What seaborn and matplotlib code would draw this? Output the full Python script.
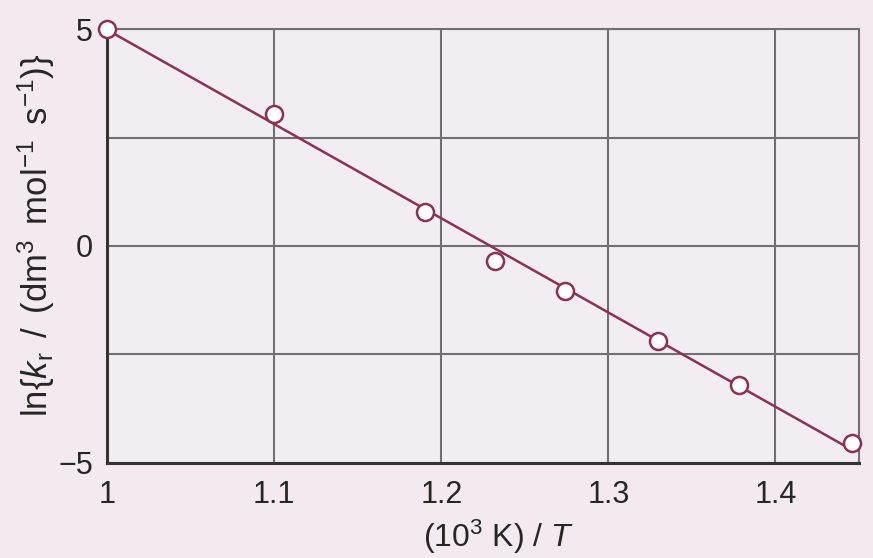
import matplotlib
matplotlib.use("Agg")
import matplotlib.pyplot as plt
import seaborn as sns
import pandas as pd

# Data
inv_T = [1.00, 1.10, 1.19, 1.232, 1.274, 1.33, 1.378, 1.446]
ln_k = [5.0, 3.05, 0.78, -0.34, -1.03, -2.2, -3.2, -4.55]
x_ticks = [1.0, 1.1, 1.2, 1.3, 1.4]
x_tick_labels = ["1", "1.1", "1.2", "1.3", "1.4"]
y_ticks = [-5, -2.5, 0, 2.5, 5]
y_tick_labels = ["\u22125", "", "0", "", "5"]

df = pd.DataFrame({"inv_T": inv_T, "ln_k": ln_k})

sns.set_theme(style="white")
plt.rcParams["font.family"] = ["Liberation Sans", "DejaVu Sans"]
plt.rcParams["mathtext.fontset"] = "custom"
plt.rcParams["mathtext.rm"] = "Liberation Sans"
plt.rcParams["mathtext.it"] = "Liberation Sans:italic"

bg = "#f3eaf1"
line_col = "#8c3152"
txt = "#262626"

fig = plt.figure(figsize=(8.73, 5.58), dpi=100, facecolor=bg)
ax = fig.add_axes([0.1226, 0.1703, 0.984 - 0.1226, 0.948 - 0.1703])
ax.set_facecolor("#f2ecf3")

sns.regplot(data=df, x="inv_T", y="ln_k", ax=ax, ci=None,
            scatter_kws=dict(s=150, facecolor="white", edgecolor=line_col,
                             linewidths=1.8, zorder=5, alpha=1, clip_on=False),
            line_kws=dict(color=line_col, lw=1.8, zorder=4))

ax.set_xlim(1.0, 1.45)
ax.set_ylim(-5, 5)
ax.set_xticks(x_ticks)
ax.set_xticklabels(x_tick_labels)
ax.set_yticks(y_ticks)
ax.set_yticklabels(y_tick_labels)
ax.tick_params(axis="both", length=0, labelsize=22, colors=txt)
ax.tick_params(axis="x", pad=12)
ax.tick_params(axis="y", pad=10)

ax.grid(True, color="#707070", lw=1.5)
ax.set_axisbelow(True)
for side in ["top", "right"]:
    ax.spines[side].set_color("#707070")
    ax.spines[side].set_linewidth(1.5)
for side in ["left", "bottom"]:
    ax.spines[side].set_color("#333333")
    ax.spines[side].set_linewidth(2.2)

ax.set_xlabel(r"(10$^3$ K) / $T$", fontsize=23, color=txt)
ax.xaxis.set_label_coords(0.52, -0.125)
ax.set_ylabel(r"ln{$k_{\rm r}\,$ / $\,$(dm$^3\,$ mol$^{-1}\,$ s$^{-1}$)}",
              fontsize=25, color=txt)
ax.yaxis.set_label_coords(-0.066, 0.525)

fig.savefig("out.png", dpi=100, facecolor=bg)
